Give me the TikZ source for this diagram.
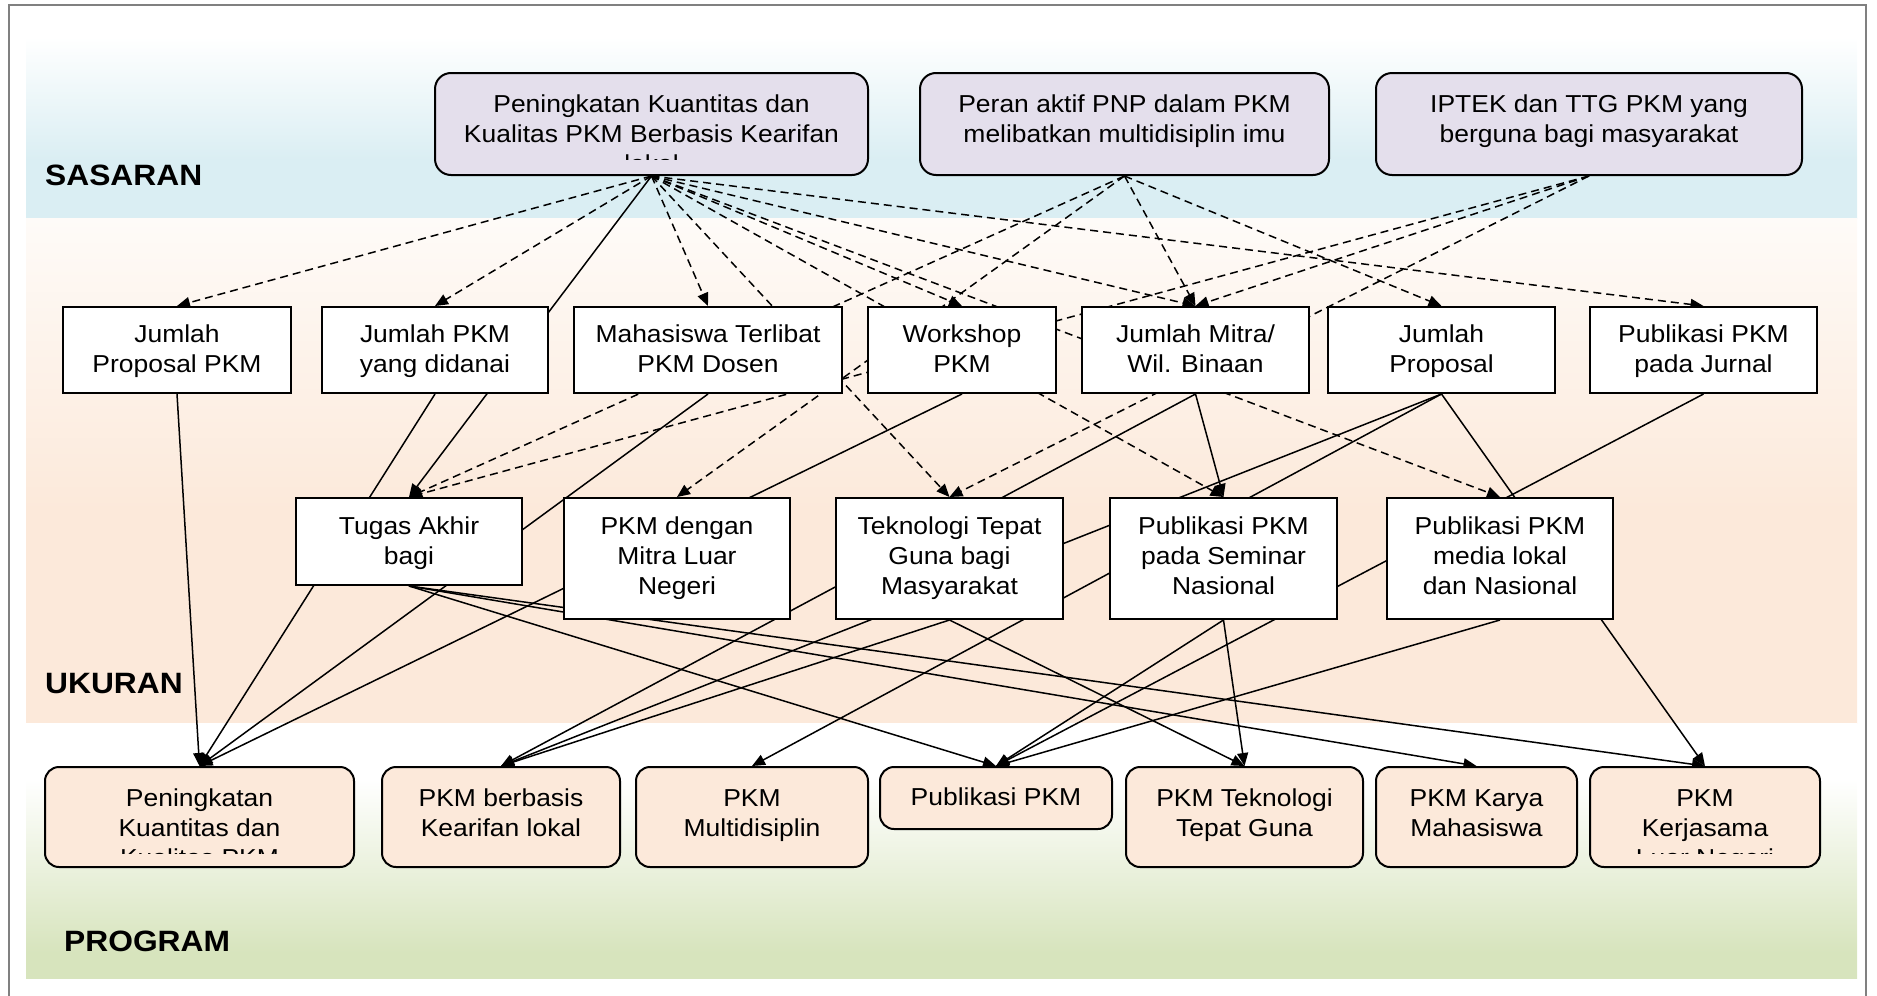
\documentclass[tikz,border=0pt]{standalone}
\usepackage{fontspec}
\setmainfont{Liberation Sans}[FakeStretch=1.08]
\usetikzlibrary{arrows.meta}

\definecolor{goalfill}{HTML}{E4DFEC}
\definecolor{progfill}{HTML}{FCE9DA}
\definecolor{skyband}{HTML}{DAEEF3}
\definecolor{peachband}{HTML}{FCE9DA}
\definecolor{peachtop}{HTML}{FEFBF8}
\definecolor{oliveband}{HTML}{D7E4BD}
\definecolor{framegray}{HTML}{808080}

% band shadings (0bp..100bp, the path spans 25bp..75bp)
\pgfdeclareverticalshading{sasaranshade}{100bp}{color(0bp)=(skyband); color(40bp)=(skyband); color(72bp)=(white); color(100bp)=(white)}
\pgfdeclareverticalshading{ukuranshade}{100bp}{color(0bp)=(peachband); color(46bp)=(peachband); color(75bp)=(peachtop); color(100bp)=(peachtop)}
\pgfdeclareverticalshading{programshade}{100bp}{color(0bp)=(oliveband); color(30bp)=(oliveband); color(64bp)=(white); color(100bp)=(white)}

\pgfdeclarelayer{bands}
\pgfdeclarelayer{links}
\pgfsetlayers{bands,links,main}

\begin{document}
\begin{tikzpicture}[x=1pt,y=-1pt,
  goalbox/.style={draw, line width=2pt, fill=goalfill, rounded corners=16pt, inner sep=0pt, minimum height=102pt},
  plainbox/.style={draw, line width=2pt, fill=white, inner sep=0pt},
  progbox/.style={draw, line width=2pt, fill=progfill, rounded corners=14pt, inner sep=0pt},
  % text blocks are placed by the baseline of their last line
  txt/.style={font=\fontsize{24.5}{30}\selectfont, align=center, inner sep=0pt, anchor=base},
  lab/.style={font=\fontsize{29.4}{34}\selectfont\bfseries, inner sep=0pt, anchor=base west},
  link/.style={line width=1.5pt, -{Triangle[length=13pt,width=11pt]}},
  dlink/.style={link, dash pattern=on 8pt off 5pt}
]
\useasboundingbox (0,0) rectangle (1877,996);

% background bands and frame
\begin{pgfonlayer}{bands}
  \shade[shading=sasaranshade] (26,25) rectangle (1857,218);
  \shade[shading=ukuranshade] (26,218) rectangle (1857,723);
  \shade[shading=programshade] (26,723) rectangle (1857,978);
  \draw[framegray, line width=1.2pt] (9,996) |- (1866,5) -- (1866,996);
\end{pgfonlayer}

% row labels
\node[lab] (lsas) at (45,185) {SASARAN};
\node[lab] (lukr) at (45,693) {UKURAN};
\node[lab] (lprg) at (64,951) {PROGRAM};

% SASARAN
\node[goalbox, minimum width=433pt] (s1) at (651.5,124) {};
\begin{scope}
  \clip (s1.north west) rectangle ([yshift=16.5pt]s1.south east);
  \node[txt] (s1t) at ([yshift=-100pt]s1.north) {Peningkatan Kuantitas dan\\Kualitas PKM Berbasis Kearifan\\lokal};
\end{scope}
\node[goalbox, minimum width=409pt] (s2) at (1124.5,124) {};
\node[txt] (s2t) at ([yshift=-70pt]s2.north) {Peran aktif PNP dalam PKM\\melibatkan multidisiplin imu};
\node[goalbox, minimum width=426pt] (s3) at (1589,124) {};
\node[txt] (s3t) at ([yshift=-70pt]s3.north) {IPTEK dan TTG PKM yang\\berguna bagi masyarakat};

% UKURAN, first row
\node[plainbox, minimum width=228pt, minimum height=86pt] (u1) at (177,350) {};
\node[txt] (u1t) at ([yshift=-66pt]u1.north) {Jumlah\\Proposal PKM};
\node[plainbox, minimum width=226pt, minimum height=86pt] (u2) at (435,350) {};
\node[txt] (u2t) at ([yshift=-66pt]u2.north) {Jumlah PKM\\yang didanai};
\node[plainbox, minimum width=268pt, minimum height=86pt] (u3) at (708,350) {};
\node[txt] (u3t) at ([yshift=-66pt]u3.north) {Mahasiswa Terlibat\\PKM Dosen};
\node[plainbox, minimum width=188pt, minimum height=86pt] (u4) at (962,350) {};
\node[txt] (u4t) at ([yshift=-66pt]u4.north) {Workshop\\PKM};
\node[plainbox, minimum width=227pt, minimum height=86pt] (u5) at (1195.5,350) {};
\node[txt] (u5t) at ([yshift=-66pt]u5.north) {Jumlah Mitra/\\Wil. Binaan};
\node[plainbox, minimum width=227pt, minimum height=86pt] (u6) at (1441.5,350) {};
\node[txt] (u6t) at ([yshift=-66pt]u6.north) {Jumlah\\Proposal};
\node[plainbox, minimum width=227pt, minimum height=86pt] (u7) at (1703.5,350) {};
\node[txt] (u7t) at ([yshift=-66pt]u7.north) {Publikasi PKM\\pada Jurnal};

% UKURAN, second row
\node[plainbox, minimum width=226pt, minimum height=87pt] (r1) at (409,541.5) {};
\node[txt] (r1t) at ([yshift=-67pt]r1.north) {Tugas Akhir\\bagi};
\node[plainbox, minimum width=226pt, minimum height=121pt] (r2) at (677,558.5) {};
\node[txt] (r2t) at ([yshift=-97pt]r2.north) {PKM dengan\\Mitra Luar\\Negeri};
\node[plainbox, minimum width=227pt, minimum height=121pt] (r3) at (949.5,558.5) {};
\node[txt] (r3t) at ([yshift=-97pt]r3.north) {Teknologi Tepat\\Guna bagi\\Masyarakat};
\node[plainbox, minimum width=227pt, minimum height=121pt] (r4) at (1223.5,558.5) {};
\node[txt] (r4t) at ([yshift=-97pt]r4.north) {Publikasi PKM\\pada Seminar\\Nasional};
\node[plainbox, minimum width=226pt, minimum height=121pt] (r5) at (1500,558.5) {};
\node[txt] (r5t) at ([yshift=-97pt]r5.north) {Publikasi PKM\\media lokal\\dan Nasional};

% PROGRAM
\node[progbox, minimum width=309pt, minimum height=100pt] (p1) at (199.5,817) {};
\begin{scope}
  \clip (p1.north west) rectangle ([yshift=15pt]p1.south east);
  \node[txt] (p1t) at ([yshift=-100pt]p1.north) {Peningkatan\\Kuantitas dan\\Kualitas PKM};
\end{scope}
\node[progbox, minimum width=238pt, minimum height=100pt] (p2) at (501,817) {};
\node[txt] (p2t) at ([yshift=-70pt]p2.north) {PKM berbasis\\Kearifan lokal};
\node[progbox, minimum width=232pt, minimum height=100pt] (p3) at (752,817) {};
\node[txt] (p3t) at ([yshift=-70pt]p3.north) {PKM\\Multidisiplin};
\node[progbox, minimum width=232pt, minimum height=62pt] (p4) at (996,798) {};
\node[txt] (p4t) at ([yshift=-39pt]p4.north) {Publikasi PKM};
\node[progbox, minimum width=237pt, minimum height=100pt] (p5) at (1244.5,817) {};
\node[txt] (p5t) at ([yshift=-70pt]p5.north) {PKM Teknologi\\Tepat Guna};
\node[progbox, minimum width=201pt, minimum height=100pt] (p6) at (1476.5,817) {};
\node[txt] (p6t) at ([yshift=-70pt]p6.north) {PKM Karya\\Mahasiswa};
\node[progbox, minimum width=230pt, minimum height=100pt] (p7) at (1705,817) {};
\begin{scope}
  \clip (p7.north west) rectangle ([yshift=15pt]p7.south east);
  \node[txt] (p7t) at ([yshift=-100pt]p7.north) {PKM\\Kerjasama\\Luar Negeri};
\end{scope}

% connectors, drawn underneath the boxes
\begin{pgfonlayer}{links}
  % sasaran -> ukuran
  \draw[dlink] (s1.south) -- (u1.north);
  \draw[dlink] (s1.south) -- (u2.north);
  \draw[dlink] (s1.south) -- (u3.north);
  \draw[dlink] (s1.south) -- (u4.north);
  \draw[dlink] (s1.south) -- (u5.north);
  \draw[dlink] (s1.south) -- (u7.north);
  \draw[dlink] (s1.south) -- (r3.north);
  \draw[dlink] (s1.south) -- (r4.north);
  \draw[dlink] (s1.south) -- (r5.north);
  \draw[link]  (s1.south) -- (r1.north);
  \draw[dlink] (s2.south) -- (u5.north);
  \draw[dlink] (s2.south) -- (u6.north);
  \draw[dlink] (s2.south) -- (r1.north);
  \draw[dlink] (s2.south) -- (r2.north);
  \draw[dlink] (s3.south) -- (u5.north);
  \draw[dlink] (s3.south) -- (r1.north);
  \draw[dlink] (s3.south) -- (r3.north);
  % ukuran -> ukuran / program
  \draw[link] (u1.south) -- (p1.north);
  \draw[link] (u2.south) -- (p1.north);
  \draw[link] (u3.south) -- (p1.north);
  \draw[link] (u4.south) -- (p1.north);
  \draw[link] (u5.south) -- (r4.north);
  \draw[link] (u5.south) -- (p2.north);
  \draw[link] (u6.south) -- (p2.north);
  \draw[link] (u6.south) -- (p3.north);
  \draw[link] (u6.south) -- (p7.north);
  \draw[link] (u7.south) -- (p4.north);
  \draw[link] (r1.south) -- (p4.north);
  \draw[link] (r1.south) -- (p6.north);
  \draw[link] (r1.south) -- (p7.north);
  \draw[link] (r3.south) -- (p2.north);
  \draw[link] (r3.south) -- (p5.north);
  \draw[link] (r4.south) -- (p4.north);
  \draw[link] (r4.south) -- (p5.north);
  \draw[link] (r5.south) -- (p4.north);
\end{pgfonlayer}
\end{tikzpicture}
\end{document}
